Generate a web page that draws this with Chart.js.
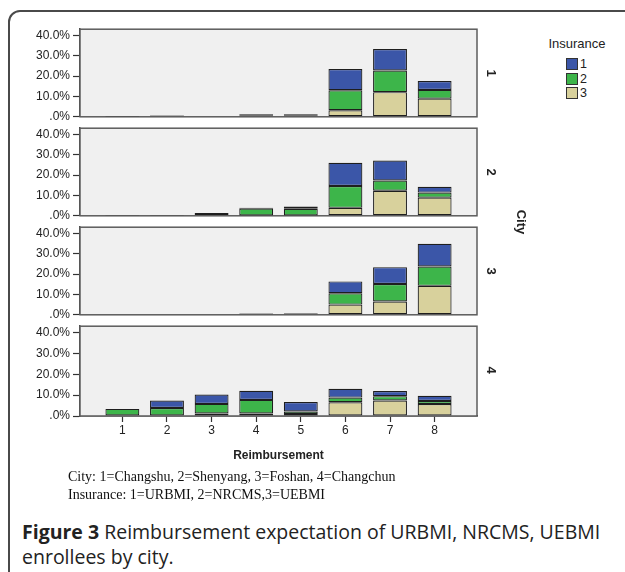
<!DOCTYPE html>
<html>
<head>
<meta charset="utf-8">
<script src="https://cdn.jsdelivr.net/npm/chart.js@4.4.1/dist/chart.umd.min.js"></script>
<style>
  html, body { margin: 0; padding: 0; background: #fff; }
  body { width: 625px; height: 572px; position: relative; overflow: hidden;
         font-family: 'Liberation Sans', Arial, sans-serif; color: #222; }
  .frame { position: absolute; left: 8px; top: 10px; width: 660px; height: 620px;
           border: 2px solid #4a4a4a; border-radius: 12px; box-sizing: border-box; }
  .panel { position: absolute; left: 0; }
  .rot { position: absolute; transform: translate(-50%, -50%) rotate(90deg);
         font-weight: bold; white-space: nowrap; }
  .legend { position: absolute; left: 540px; top: 36px; width: 74px; font-size: 13px; }
  .legend .title { text-align: center; margin-bottom: 6px; }
  .legend .row { display: flex; align-items: center; height: 14.5px; padding-left: 26px; font-size: 12.5px; }
  .legend .box { width: 10px; height: 10px; border: 1px solid #333; margin-right: 2px; }
  .xtitle { position: absolute; left: 80px; width: 397px; top: 448px; text-align: center;
            font-weight: bold; font-size: 12px; }
  .note { position: absolute; left: 68px; font-family: 'Liberation Serif', 'Times New Roman', serif;
          font-size: 14px; white-space: nowrap; color: #111; }
  .caption { position: absolute; left: 22px; top: 519px; font-family: 'Open Sans', 'Noto Sans', sans-serif;
             font-size: 19.5px; line-height: 25px; color: #222; }
  .caption b { font-weight: bold; }
</style>
</head>
<body>
<div class="frame"></div>
<div id="plots"></div>
<div class="legend" id="legend"></div>
<div class="rot" style="left:521px; top:222px; font-size:13px;">City</div>
<div class="xtitle">Reimbursement</div>
<div class="note" style="top:469px;">City: 1=Changshu, 2=Shenyang, 3=Foshan, 4=Changchun</div>
<div class="note" style="top:487px;">Insurance: 1=URBMI, 2=NRCMS,3=UEBMI</div>
<div class="caption"><b>Figure 3</b> Reimbursement expectation of URBMI, NRCMS, UEBMI<br>enrollees by city.</div>

<script>
// Reimbursement levels on the x axis
const reimbursement = [1, 2, 3, 4, 5, 6, 7, 8];
// City panels, top to bottom
const cities = ['1', '2', '3', '4'];
// Insurance types (legend entries)
const insuranceLabels = ['1', '2', '3'];
const yTicks = [0, 10, 20, 30, 40];

// Percent of enrollees per reimbursement level, by city and insurance
const city1URBMI = [0.1, 0.2, 0, 0.4, 0.4, 10.5, 10.6, 4.4];
const city1NRCMS = [0.1, 0.2, 0, 0.4, 0.4, 9.8, 10.6, 4.3];
const city1UEBMI = [0.2, 0.3, 0, 0.5, 0.5, 3.2, 12.1, 8.9];

const city2URBMI = [0.1, 0.1, 0.5, 0.4, 1.2, 11.4, 9.8, 2.8];
const city2NRCMS = [0.1, 0.1, 0.5, 3.3, 3.2, 10.7, 5.0, 2.5];
const city2UEBMI = [0.1, 0.1, 0.4, 0.2, 0.2, 3.9, 12.3, 8.9];

const city3URBMI = [0, 0, 0, 0.3, 0.3, 5.8, 8.3, 11.2];
const city3NRCMS = [0, 0, 0, 0.2, 0.3, 5.6, 8.6, 9.5];
const city3UEBMI = [0, 0, 0, 0.3, 0.3, 5.0, 6.5, 14.2];

const city4URBMI = [0, 3.6, 4.5, 4.4, 4.5, 4.2, 2.5, 2.5];
const city4NRCMS = [3.4, 3.8, 4.6, 6.5, 1.2, 2.2, 2.1, 1.5];
const city4UEBMI = [0, 0, 1.2, 1.2, 1.0, 6.6, 7.4, 5.7];

const cityData = [
  [city1URBMI, city1NRCMS, city1UEBMI],
  [city2URBMI, city2NRCMS, city2UEBMI],
  [city3URBMI, city3NRCMS, city3UEBMI],
  [city4URBMI, city4NRCMS, city4UEBMI]
];

const insuranceColors = ['#3b56a8', '#3db54a', '#d8d19c'];
const FONT = "'Liberation Sans', Arial, sans-serif";
const TEXT = '#222';

// Panel geometry
const panelTops = [27, 126, 225, 324];
const PLOT_H = 92;
const PAD = 8;
const XAXIS_H = 26;
const Y_AXIS_W = 80;
const CANVAS_W = 490;
const RIGHT_PAD = CANVAS_W - 477;

// Grey panel background and frame, drawn beneath the bars
const panelFrame = {
  id: 'panelFrame',
  beforeDatasetsDraw(chart) {
    const a = chart.chartArea, ctx = chart.ctx;
    ctx.save();
    ctx.fillStyle = '#f0f0f0';
    ctx.fillRect(a.left, a.top, a.right - a.left, a.bottom - a.top);
    ctx.strokeStyle = '#5c5c5c';
    ctx.lineWidth = 1.5;
    ctx.strokeRect(a.left, a.top, a.right - a.left, a.bottom - a.top);
    ctx.restore();
  }
};

const plots = document.getElementById('plots');
cities.forEach((city, i) => {
  const last = i === cities.length - 1;
  const h = PAD + PLOT_H + (last ? XAXIS_H : PAD);
  const wrap = document.createElement('div');
  wrap.className = 'panel';
  wrap.style.top = (panelTops[i] - PAD) + 'px';
  wrap.style.width = CANVAS_W + 'px';
  wrap.style.height = h + 'px';
  const cv = document.createElement('canvas');
  cv.width = CANVAS_W; cv.height = h;
  cv.style.width = CANVAS_W + 'px'; cv.style.height = h + 'px';
  wrap.appendChild(cv);
  plots.appendChild(wrap);

  // Stack bottom-up: insurance 3, 2, 1
  const series = cityData[i];
  const datasets = [2, 1, 0].map(k => ({
    label: insuranceLabels[k],
    data: reimbursement.map((r, j) => ({ x: r, y: series[k][j] })),
    backgroundColor: insuranceColors[k],
    borderColor: '#1e1e1e',
    borderWidth: 1.2,
    borderSkipped: false,
    categoryPercentage: 1,
    barPercentage: 0.76
  }));

  new Chart(cv, {
    type: 'bar',
    data: { datasets },
    plugins: [panelFrame],
    options: {
      responsive: false,
      animation: false,
      devicePixelRatio: 1,
      layout: { padding: { top: PAD, bottom: last ? 0 : PAD, left: 0, right: RIGHT_PAD } },
      plugins: { legend: { display: false }, tooltip: { enabled: false } },
      scales: {
        x: {
          type: 'linear',
          display: last,
          stacked: true,
          offset: false,
          min: 0.05,
          max: 8.95,
          afterFit(s) { s.height = last ? XAXIS_H : 0; },
          afterBuildTicks(s) { s.ticks = reimbursement.map(v => ({ value: v })); },
          ticks: { stepSize: 1, includeBounds: false, autoSkip: false, color: TEXT, padding: 1,
                   font: { family: FONT, size: 12 }, callback: v => String(v) },
          grid: { drawOnChartArea: false, offset: false, tickLength: 6, tickColor: '#333', tickWidth: 1.2 },
          border: { display: true, color: '#444', width: 1.5 }
        },
        y: {
          stacked: true,
          min: 0,
          max: 43,
          afterFit(s) { s.width = Y_AXIS_W; },
          afterBuildTicks(s) { s.ticks = yTicks.map(v => ({ value: v })); },
          ticks: { stepSize: 10, includeBounds: false, autoSkip: false, color: TEXT, padding: 3,
                   font: { family: FONT, size: 12 },
                   callback: v => v === 0 ? '.0%' : v.toFixed(1) + '%' },
          grid: { drawOnChartArea: false, tickLength: 7, tickColor: '#333', tickWidth: 1.2 },
          border: { display: true, color: '#444', width: 1.5 }
        }
      }
    }
  });

  // City number at the right of each panel
  const lab = document.createElement('div');
  lab.className = 'rot';
  lab.style.left = '491px';
  lab.style.top = (panelTops[i] + PLOT_H / 2) + 'px';
  lab.style.fontSize = '13px';
  lab.textContent = city;
  document.body.appendChild(lab);
});

// Insurance legend
const legend = document.getElementById('legend');
legend.innerHTML = '<div class="title">Insurance</div>' + insuranceLabels.map((l, k) =>
  '<div class="row"><span class="box" style="background:' + insuranceColors[k] + '"></span>' + l + '</div>'
).join('');
</script>
</body>
</html>
